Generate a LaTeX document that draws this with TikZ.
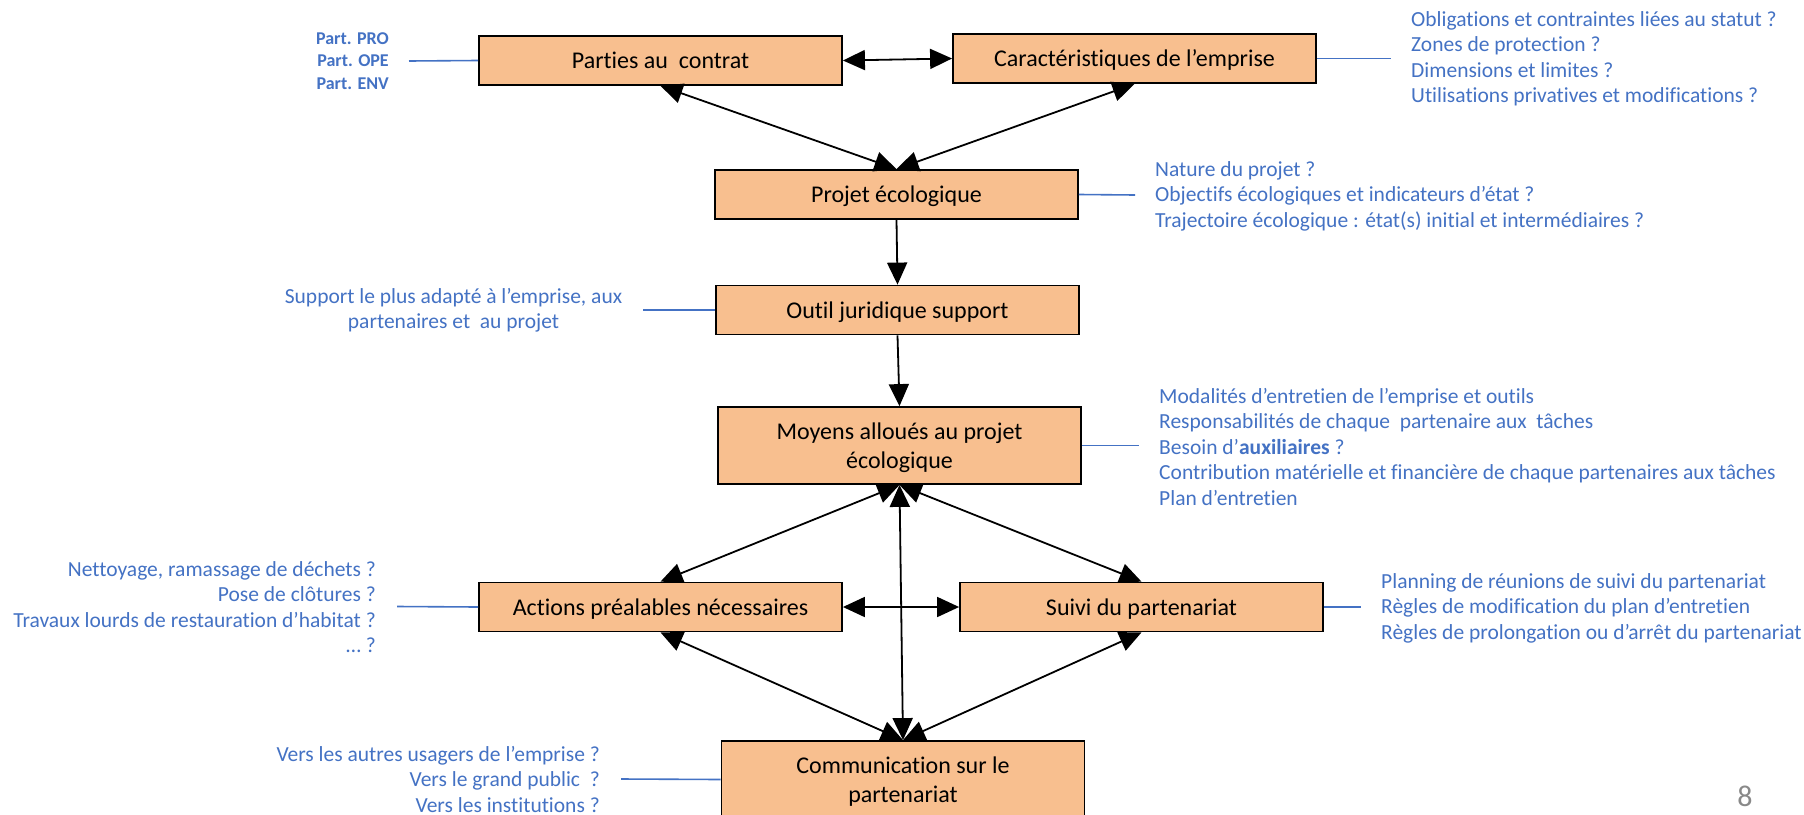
\documentclass[tikz,border=0pt]{standalone}
\usepackage{fontspec}
\setmainfont{Carlito}[Ligatures=NoCommon]
\usetikzlibrary{arrows.meta}
\definecolor{boxfill}{RGB}{248,191,143}
\definecolor{lblue}{RGB}{68,114,196}
\definecolor{pgnum}{RGB}{137,137,137}
\begin{document}
\begin{tikzpicture}[x=1pt,y=-1pt,
  box/.style={draw=black, line width=1.8pt, fill=boxfill, minimum width=363pt, minimum height=49pt,
    inner sep=0pt, align=center, text depth=0pt, font=\fontsize{24}{28.5}\selectfont},
  tall/.style={minimum height=77pt},
  bi/.style={line width=1.8pt, {Triangle[length=22pt,width=20pt]}-{Triangle[length=22pt,width=20pt]}},
  uni/.style={line width=1.8pt, -{Triangle[length=22pt,width=20pt]}},
  bline/.style={draw=lblue, line width=1.6pt},
  lbl/.style={text=lblue, inner sep=0pt, font=\fontsize{21.5}{25.5}\selectfont},
]
\useasboundingbox (0,0) rectangle (1804,814);
\clip (0,0) rectangle (1804,814);
\fill[white] (0,0) rectangle (1804,814);

% boxes
\node[box] (p1) at (660.5,60.5) {Parties au~ contrat};
\node[box] (p2) at (1134.5,58.5) {Caractéristiques de l’emprise};
\node[box] (pe) at (896.5,194.5) {Projet écologique};
\node[box] (oj) at (897.5,310) {Outil juridique support};
\node[box,tall] (mo) at (899.5,445.5) {Moyens alloués au projet\\écologique};
\node[box] (ac) at (660.5,607) {Actions préalables nécessaires};
\node[box] (su) at (1141.5,607) {Suivi du partenariat};
\node[box,tall] (co) at (903,779.5) {Communication sur le\\partenariat};

% connectors
\draw[bi] (p1.east) -- (p2.west);
\draw[bi] (p1.south) -- (pe.north);
\draw[bi] (p2.south) -- (pe.north);
\draw[uni] (pe.south) -- (oj.north);
\draw[uni] (oj.south) -- (mo.north);
\draw[bi] (mo.south) -- (ac.north);
\draw[bi] (mo.south) -- (su.north);
\draw[bi] (mo.south) -- (co.north);
\draw[bi] (ac.east) -- (su.west);
\draw[bi] (ac.south) -- (co.north);
\draw[bi] (su.south) -- (co.north);

% blue leader lines
\coordinate (l1) at (409,61);
\coordinate (l2) at (1391,58.5);
\coordinate (l3) at (1135,195);
\coordinate (l4) at (643,310);
\coordinate (l5) at (1139,445.5);
\coordinate (l6) at (397,606.5);
\coordinate (l7) at (1361,607);
\coordinate (l8) at (621,779);
\draw[bline] (p1.west) -- (l1);
\draw[bline] (p2.east) -- (l2);
\draw[bline] (pe.east) -- (l3);
\draw[bline] (oj.west) -- (l4);
\draw[bline] (mo.east) -- (l5);
\draw[bline] (ac.west) -- (l6);
\draw[bline] (su.east) -- (l7);
\draw[bline] (co.west) -- (l8);

% labels
\node[lbl, anchor=east, align=right, font=\bfseries\fontsize{18}{22.5}\selectfont] (t1) at (389,61)
  {Part. PRO\\Part. OPE\\Part. ENV};
\node[lbl, anchor=west, align=left] (t2) at (1411,59)
  {Obligations et contraintes liées au statut ?\\Zones de protection ?\\Dimensions et limites ?\\Utilisations privatives et modifications ?};
\node[lbl, anchor=west, align=left] (t3) at (1155,196)
  {Nature du projet ?\\Objectifs écologiques et indicateurs d’état ?\\Trajectoire écologique : état(s) initial et intermédiaires ?};
\node[lbl, align=center] (t4) at (453.5,310.5)
  {Support le plus adapté à l’emprise, aux\\partenaires et~ au projet};
\node[lbl, anchor=west, align=left] (t5) at (1159,446.5)
  {Modalités d’entretien de l’emprise et outils\\Responsabilités de chaque~ partenaire aux~ tâches\\Besoin d’\textbf{auxiliaires} ?\\Contribution matérielle et financière de chaque partenaires aux tâches\\Plan d’entretien};
\node[lbl, anchor=east, align=right] (t6) at (376,607)
  {Nettoyage, ramassage de déchets ?\\Pose de clôtures ?\\Travaux lourds de restauration d’habitat ?\\… ?};
\node[lbl, anchor=west, align=left] (t7) at (1381,608)
  {Planning de réunions de suivi du partenariat\\Règles de modification du plan d’entretien\\Règles de prolongation ou d’arrêt du partenariat};
\node[lbl, anchor=east, align=right] (t8) at (600,779)
  {Vers les autres usagers de l’emprise ?\\Vers le grand public~ ?\\Vers les institutions ?};

\node[text=pgnum, font=\fontsize{30}{30}\selectfont, inner sep=0pt] (pg) at (1745,796) {8};
\end{tikzpicture}
\end{document}
